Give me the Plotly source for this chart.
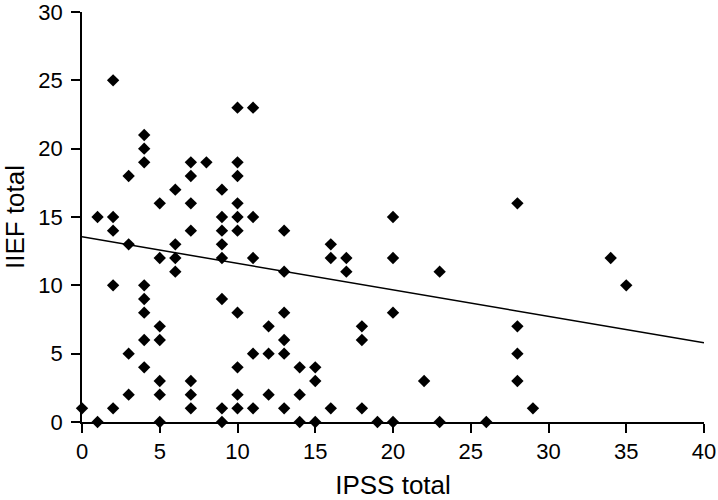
import plotly.graph_objects as go

# IPSS total (x) and IIEF total (y) per patient
ipss = [0, 1, 1,
        2, 2, 2, 2, 2,
        3, 3, 3, 3,
        4, 4, 4, 4, 4, 4, 4, 4,
        5, 5, 5, 5, 5, 5, 5,
        6, 6, 6, 6,
        7, 7, 7, 7, 7, 7, 7,
        8,
        9, 9, 9, 9, 9, 9, 9, 9,
        10, 10, 10, 10, 10, 10, 10, 10, 10, 10,
        11, 11, 11, 11, 11,
        12, 12, 12,
        13, 13, 13, 13, 13, 13,
        14, 14, 14,
        15, 15, 15,
        16, 16, 16,
        17, 17,
        18, 18, 18,
        19,
        20, 20, 20, 20,
        22,
        23, 23,
        26,
        28, 28, 28, 28,
        29,
        34,
        35]
iief = [1, 0, 15,
        25, 15, 14, 10, 1,
        18, 13, 5, 2,
        21, 20, 19, 10, 9, 8, 6, 4,
        16, 12, 7, 6, 3, 2, 0,
        17, 13, 12, 11,
        19, 18, 16, 14, 3, 2, 1,
        19,
        17, 15, 14, 13, 12, 9, 1, 0,
        23, 19, 18, 16, 15, 14, 8, 4, 2, 1,
        23, 15, 12, 5, 1,
        7, 5, 2,
        14, 11, 8, 6, 5, 1,
        4, 2, 0,
        4, 3, 0,
        13, 12, 1,
        12, 11,
        7, 6, 1,
        0,
        15, 12, 8, 0,
        3,
        11, 0,
        0,
        16, 7, 5, 3,
        1,
        12,
        10]

x_ticks = [0, 5, 10, 15, 20, 25, 30, 35, 40]
y_ticks = [0, 5, 10, 15, 20, 25, 30]

# trend line as drawn in the original (fit on the full, overlapping sample)
trend_intercept = 13.55
trend_slope = -0.194
line_x = [0, 40]
line_y = [trend_intercept + trend_slope * v for v in line_x]

fig = go.Figure()
fig.add_trace(go.Scatter(
    x=line_x, y=line_y, mode="lines",
    line=dict(color="black", width=1.5),
    hoverinfo="skip", showlegend=False,
))
fig.add_trace(go.Scatter(
    x=ipss, y=iief, mode="markers",
    marker=dict(symbol="diamond", size=9.5, color="black"),
    cliponaxis=False, showlegend=False,
))

axis_font = dict(family="Liberation Sans, Arial, sans-serif", size=22, color="black")
fig.update_layout(
    width=718, height=500,
    margin=dict(l=82, r=14, t=12, b=78),
    paper_bgcolor="white", plot_bgcolor="white",
    font=axis_font,
    xaxis=dict(
        range=[0, 40], tickvals=x_ticks, ticks="outside", ticklen=9,
        tickcolor="black", tickwidth=1.5, ticklabelstandoff=0,
        ticklabeloverflow="allow",
        showline=True, linecolor="black", linewidth=1.5,
        showgrid=False, zeroline=False, automargin=False,
        title=dict(text="IPSS total", standoff=14),
    ),
    yaxis=dict(
        range=[0, 30], tickvals=y_ticks, ticks="outside", ticklen=9,
        tickcolor="black", tickwidth=1.5, ticklabelstandoff=4,
        ticklabeloverflow="allow",
        showline=True, linecolor="black", linewidth=1.5,
        showgrid=False, zeroline=False, automargin=False,
        title=dict(text="IIEF total", standoff=13),
    ),
)

# drop the page's default body margin so the 718x500 figure fills the window
fig.write_html(
    "out.html",
    config={"displayModeBar": False},
    post_script="document.body.style.margin = '0';",
)
